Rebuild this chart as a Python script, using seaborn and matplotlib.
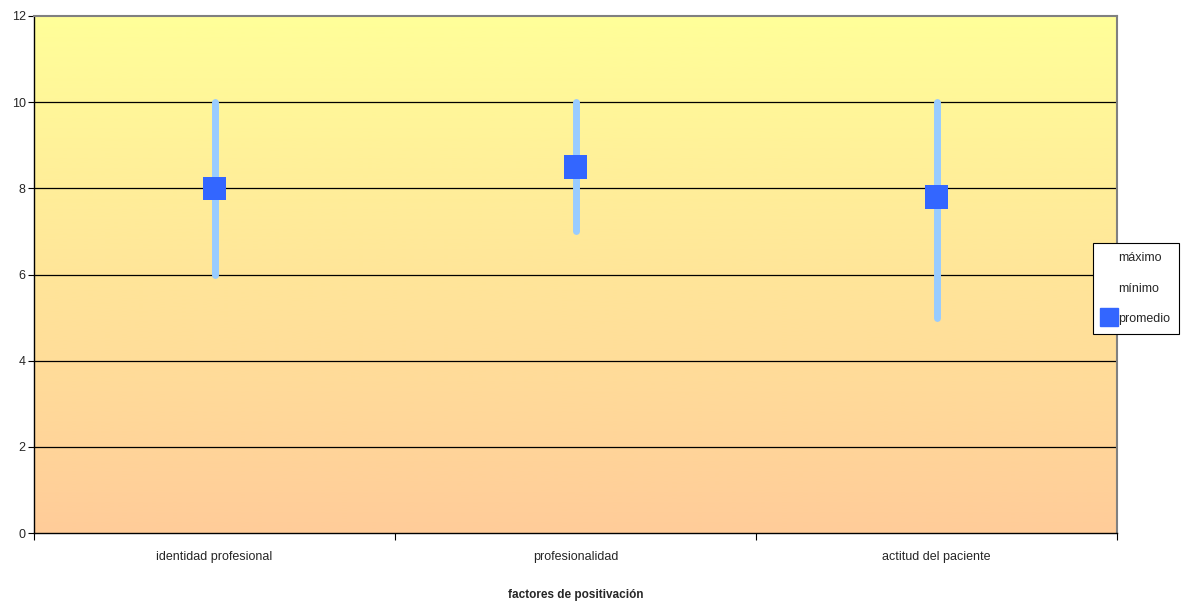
import numpy as np
import pandas as pd
import matplotlib
matplotlib.use("Agg")
import matplotlib.pyplot as plt
from matplotlib.lines import Line2D
import seaborn as sns

categories = ["identidad profesional", "profesionalidad", "actitud del paciente"]
maximo = [10, 10, 10]
minimo = [6, 7, 5]
promedio = [8.0, 8.5, 7.8]

df = pd.DataFrame({"factor": categories, "maximo": maximo,
                   "minimo": minimo, "promedio": promedio})

sns.set_theme(style="white")
plt.rcParams["font.family"] = ["Liberation Sans", "DejaVu Sans"]

W, H = 1193, 603
fig = plt.figure(figsize=(W / 100, H / 100), dpi=100)
ax = fig.add_axes([34 / W, (H - 533) / H, (1117 - 34) / W, (533 - 16) / H])

# gradient background
top = np.array([255, 255, 153]) / 255
bot = np.array([255, 204, 153]) / 255
t = np.linspace(0, 1, 256)[:, None]
grad = (top[None, :] * (1 - t) + bot[None, :] * t)[:, None, :]
ax.imshow(grad, extent=[-0.5, 2.5, 0, 12], aspect="auto", zorder=0,
          interpolation="bilinear")

# gridlines
for yv in [2, 4, 6, 8, 10]:
    ax.axhline(yv, color="black", lw=0.9, zorder=1)

# range lines
xpos = np.arange(len(categories))
ax.vlines(xpos, df["minimo"], df["maximo"], color="#99CCFF", lw=5,
          capstyle="round", zorder=2)

sns.scatterplot(data=df, x="factor", y="promedio", marker="s", s=290,
                color="#3366FF", edgecolor="none", ax=ax, zorder=3, legend=False)

ax.set_xlim(-0.5, 2.5)
ax.set_ylim(0, 12)
ax.set_yticks([0, 2, 4, 6, 8, 10, 12])
ax.set_xticks(xpos)
ax.set_xticklabels(categories, fontsize=9)
ax.set_xticks([-0.5, 0.5, 1.5, 2.5], minor=True)
ax.tick_params(axis="x", which="major", length=0, pad=13)
ax.tick_params(axis="x", which="minor", length=5, width=0.8, color="black",
               direction="out", bottom=True)
ax.tick_params(axis="y", length=4, width=0.8, color="black", direction="out",
               left=True, labelsize=9, pad=2)
ax.set_ylabel("")
ax.set_xlabel("factores de positivación", fontsize=8.5, fontweight="bold",
              labelpad=19)

for s in ["left", "bottom"]:
    ax.spines[s].set_color("black")
    ax.spines[s].set_linewidth(1)
for s in ["top", "right"]:
    ax.spines[s].set_color("#808080")
    ax.spines[s].set_linewidth(1.5)

handles = [Line2D([], [], linestyle="none", marker=None),
           Line2D([], [], linestyle="none", marker=None),
           Line2D([], [], linestyle="none", marker="s", markersize=12.5,
                  color="#3366FF")]
leg = fig.legend(handles, ["máximo", "mínimo", "promedio"],
                 loc="upper left", bbox_to_anchor=(1093 / W, 1 - 243 / H),
                 fontsize=9, frameon=True, fancybox=False, edgecolor="black",
                 framealpha=1, facecolor="white",
                 handlelength=1.1, handletextpad=0.15, borderpad=0.75,
                 borderaxespad=0, labelspacing=1.45)
leg.get_frame().set_linewidth(0.8)

fig.savefig("out.png", dpi=100)
